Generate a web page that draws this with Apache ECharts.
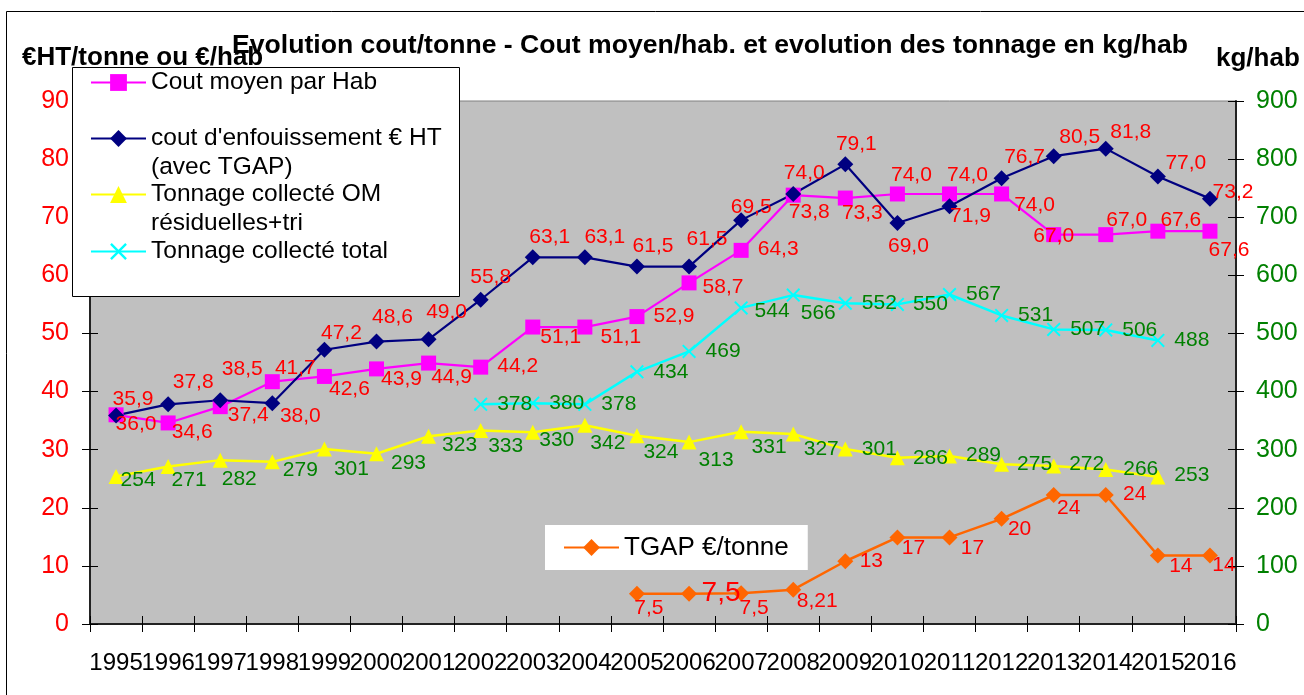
<!DOCTYPE html>
<html><head><meta charset="utf-8">
<script src="https://cdn.jsdelivr.net/npm/echarts/dist/echarts.min.js"></script>
<style>html,body{margin:0;padding:0;background:#fff}#c{width:1304px;height:695px}</style>
</head><body><div id="c"></div>
<script>
// ---------- data ----------
const years = ['1995','1996','1997','1998','1999','2000','2001','2002','2003','2004','2005','2006','2007','2008','2009','2010','2011','2012','2013','2014','2015','2016'];
const coutHab = [36.0,34.6,37.4,41.7,42.6,43.9,44.9,44.2,51.1,51.1,52.9,58.7,64.3,73.8,73.3,74.0,74.0,74.0,67.0,67.0,67.6,67.6];
const coutEnfouissement = [35.9,37.8,38.5,38.0,47.2,48.6,49.0,55.8,63.1,63.1,61.5,61.5,69.5,74.0,79.1,69.0,71.9,76.7,80.5,81.8,77.0,73.2];
const tonnageOM = [254,271,282,279,301,293,323,333,330,342,324,313,331,327,301,286,289,275,272,266,253,null];
const tonnageTotal = [null,null,null,null,null,null,null,378,380,378,434,469,544,566,552,550,567,531,507,506,488,null];
const tgapPlotted = [null,null,null,null,null,null,null,null,null,null,5.2,5.2,5.3,5.9,10.8,14.9,14.9,18.1,22.2,22.2,11.8,11.8];
const tgapLabels = [null,null,null,null,null,null,null,null,null,null,'7,5','7,5','7,5','8,21','13','17','17','20','24','24','14','14'];
const leftMin = 0, leftMax = 90, leftStep = 10;
const rightMin = 0, rightMax = 900, rightStep = 100;
const names = {
  hab: 'Cout moyen par Hab',
  enf: "cout d'enfouissement € HT (avec TGAP)",
  om: 'Tonnage collecté OM résiduelles+tri',
  tot: 'Tonnage collecté total',
  tgap: 'TGAP €/tonne'
};
const legendText = {
  hab: 'Cout moyen par Hab',
  enf: "\ncout d'enfouissement € HT\n(avec TGAP)",
  om: '\nTonnage collecté OM\nrésiduelles+tri',
  tot: 'Tonnage collecté total',
  tgap: 'TGAP €/tonne'
};

// ---------- label placement (style) ----------
const offHab = [[20,9],[24,9],[28,9],[23,-13],[25,13],[25,10],[23,14],[37,-1],[28,10],[36,10],[37,0],[34,4],[37,-1],[16,17],[17,15],[14,-19],[18,-19],[33,11],[0,2],[21,-14],[23,-11],[19,19]];
const offEnf = [[17,-16],[25,-22],[22,-31],[28,13],[17,-17],[16,-24],[18,-27],[10,-23],[17,-20],[20,-20],[16,-20],[18,-27],[10,-13],[11,-21],[11,-20],[11,23],[21,10],[23,-21],[26,-19],[25,-16],[28,-13],[23,-6]];
const offOM = [[22,4],[21,14],[19,19],[28,8],[27,20],[32,9],[31,9],[25,16],[24,8],[23,18],[24,16],[27,18],[28,16],[28,15],[34,0],[33,0],[34,-1],[33,0],[33,-2],[35,0],[34,-2],null];
const offTot = [null,null,null,null,null,null,null,[34,0],[34,0],[34,0],[34,0],[34,0],[31,3],[25,18],[34,0],[33,0],[34,0],[34,0],[34,0],[34,0],[34,0],null];
const offTgap = [null,null,null,null,null,null,null,null,null,null,[12,14],[32,-1],[13,15],[24,11],[26,0],[16,11],[23,11],[18,10],[15,13],[29,-1],[23,11],[14,10]];
const bigLabel = {11: {fontSize: 28}};

const FF = "'Liberation Sans', Arial, sans-serif";
const RED = '#ff0000', GREEN = '#008000';

function items(values, offsets, extra) {
  return values.map((v, i) => {
    if (v == null) return '-';
    const lab = Object.assign({offset: offsets[i]}, (extra && extra[i]) || {});
    return {value: v, label: lab};
  });
}
const fmtCost = p => Number(p.value).toFixed(1).replace('.', ',');
const fmtTon = p => String(p.value);
const labelBase = (color, formatter) => ({show: true, position: 'inside', color: color, fontSize: 21, fontFamily: FF, formatter: formatter});
const XSYM = 'path://M0,1L1,0L5,4L9,0L10,1L6,5L10,9L9,10L5,6L1,10L0,9L4,5Z';

function legendAt(key, left, top, extra) {
  return Object.assign({
    data: [names[key]], left: left, top: top, padding: 0, orient: 'vertical',
    itemWidth: 55, itemHeight: 21, selectedMode: false, z: 20,
    formatter: () => legendText[key],
    textStyle: {fontSize: 24.5, lineHeight: 29, color: '#000', fontFamily: FF}
  }, extra || {});
}

const chart = echarts.init(document.getElementById('c'), null, {renderer: 'canvas'});
const option = {
  animation: false,
  backgroundColor: '#fff',
  title: [
    {text: 'Evolution cout/tonne - Cout moyen/hab. et evolution des tonnage en kg/hab', left: 232, top: 33, padding: 0, z: 25,
     textStyle: {fontSize: 26.6, fontWeight: 'bold', color: '#000', fontFamily: FF, lineHeight: 26}},
    {text: '€HT/tonne ou €/hab', left: 22, top: 45, padding: 0, z: 24,
     textStyle: {fontSize: 26, fontWeight: 'bold', color: '#000', fontFamily: FF, lineHeight: 26}},
    {text: 'kg/hab', left: 1216, top: 46, padding: 0,
     textStyle: {fontSize: 26, fontWeight: 'bold', color: '#000', fontFamily: FF, lineHeight: 26}}
  ],
  graphic: [
    {type: 'rect', z: 1, silent: true, shape: {x: 6.5, y: 11.5, width: 1400, height: 800}, style: {fill: 'none', stroke: '#000', lineWidth: 1}},
    {type: 'rect', z: 18, silent: true, shape: {x: 72.5, y: 67.5, width: 387, height: 229}, style: {fill: '#fff', stroke: '#000', lineWidth: 1}}
  ],
  legend: [
    legendAt('hab', 90, 68),
    legendAt('enf', 90, 95),
    legendAt('om', 90, 151),
    legendAt('tot', 90, 237),
    legendAt('tgap', 545, 525, {padding: [7.5, 19, 7.5, 18], backgroundColor: '#fff',
      textStyle: {fontSize: 26, lineHeight: 30, color: '#000', fontFamily: FF}})
  ],
  grid: {left: 90, right: 68, top: 101, bottom: 71, show: true, backgroundColor: '#c0c0c0',
         borderColor: '#808080', borderWidth: 1, containLabel: false, outerBoundsMode: 'none'},
  xAxis: [
    {type: 'category', data: years, boundaryGap: true, position: 'bottom',
     axisLine: {show: true, onZero: false, lineStyle: {color: '#222', width: 2}},
     axisTick: {show: true, alignWithLabel: false, interval: 0, length: 8, lineStyle: {color: '#000', width: 1}},
     axisLabel: {interval: 0, fontSize: 24, color: '#000', margin: 27, fontFamily: FF},
     splitLine: {show: false}},
    {type: 'category', data: years, boundaryGap: true, position: 'bottom',
     axisLine: {show: false}, axisLabel: {show: false}, splitLine: {show: false},
     axisTick: {show: true, inside: true, interval: 0, length: 8, lineStyle: {color: '#000', width: 1}}}
  ],
  yAxis: [
    {type: 'value', min: leftMin, max: leftMax, interval: leftStep, position: 'left',
     axisLine: {show: true, lineStyle: {color: '#222', width: 2}},
     axisTick: {show: true, length: 8, lineStyle: {color: '#000', width: 1}},
     axisLabel: {color: RED, fontSize: 25, margin: 21, fontFamily: FF},
     splitLine: {show: false}},
    {type: 'value', min: rightMin, max: rightMax, interval: rightStep, position: 'right',
     axisLine: {show: true, lineStyle: {color: '#222', width: 2}},
     axisTick: {show: true, length: 8, lineStyle: {color: '#000', width: 1}},
     axisLabel: {color: GREEN, fontSize: 25, margin: 20, fontFamily: FF},
     splitLine: {show: false}},
    {type: 'value', min: leftMin, max: leftMax, interval: leftStep, position: 'left',
     axisLine: {show: false}, axisLabel: {show: false}, splitLine: {show: false},
     axisTick: {show: true, inside: true, length: 8, lineStyle: {color: '#000', width: 1}}},
    {type: 'value', min: rightMin, max: rightMax, interval: rightStep, position: 'right',
     axisLine: {show: false}, axisLabel: {show: false}, splitLine: {show: false},
     axisTick: {show: true, inside: true, length: 8, lineStyle: {color: '#000', width: 1}}}
  ],
  series: [
    {name: names.hab, type: 'line', yAxisIndex: 0, data: items(coutHab, offHab),
     symbol: 'rect', symbolSize: 15, color: '#ff00ff',
     lineStyle: {color: '#ff00ff', width: 2.2}, itemStyle: {color: '#ff00ff', borderWidth: 0},
     label: labelBase(RED, fmtCost), emphasis: {disabled: true}},
    {name: names.enf, type: 'line', yAxisIndex: 0, data: items(coutEnfouissement, offEnf),
     symbol: 'diamond', symbolSize: 16, color: '#000080',
     lineStyle: {color: '#000080', width: 2.2}, itemStyle: {color: '#000080', borderWidth: 0},
     label: labelBase(RED, fmtCost), emphasis: {disabled: true}},
    {name: names.om, type: 'line', yAxisIndex: 1, data: items(tonnageOM, offOM),
     symbol: 'triangle', symbolSize: 15, color: '#ffff00',
     lineStyle: {color: '#ffff00', width: 2.5}, itemStyle: {color: '#ffff00', borderWidth: 0},
     label: labelBase(GREEN, fmtTon), emphasis: {disabled: true}},
    {name: names.tot, type: 'line', yAxisIndex: 1, data: items(tonnageTotal, offTot),
     symbol: XSYM, symbolSize: 14, color: '#00ffff',
     lineStyle: {color: '#00ffff', width: 2.5}, itemStyle: {color: '#00ffff', borderWidth: 0},
     label: labelBase(GREEN, fmtTon), emphasis: {disabled: true}},
    {name: names.tgap, type: 'line', yAxisIndex: 0, data: items(tgapPlotted, offTgap, bigLabel),
     symbol: 'diamond', symbolSize: 16, color: '#ff6600',
     lineStyle: {color: '#ff6600', width: 2.5}, itemStyle: {color: '#ff6600', borderWidth: 0},
     label: labelBase(RED, p => tgapLabels[p.dataIndex]), emphasis: {disabled: true}}
  ]
};
chart.setOption(option);
</script>
</body></html>
